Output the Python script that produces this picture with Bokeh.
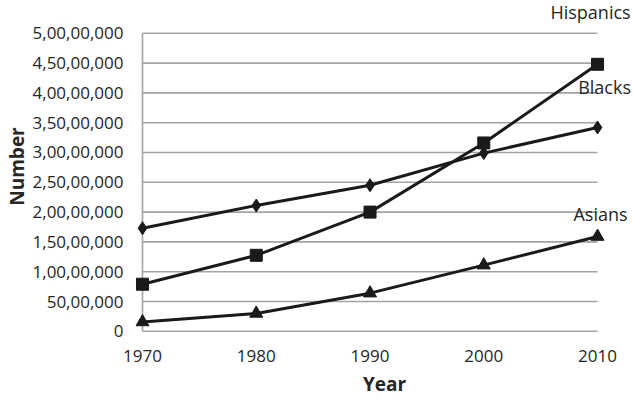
from bokeh.plotting import figure
from bokeh.models import Range1d, FixedTicker, ColumnDataSource
from bokeh.core.properties import value
from bokeh.embed import file_html
from bokeh.resources import INLINE

# ---- data ----
years = [1970, 1980, 1990, 2000, 2010]
blacks = [17.3e6, 21.1e6, 24.5e6, 29.9e6, 34.2e6]
hispanics = [7.9e6, 12.75e6, 20.0e6, 31.6e6, 44.8e6]
asians = [1.56e6, 3.0e6, 6.4e6, 11.1e6, 15.9e6]
series_names = ["Blacks", "Hispanics", "Asians"]
y_tick_values = [0, 5e6, 10e6, 15e6, 20e6, 25e6, 30e6, 35e6, 40e6, 45e6, 50e6]
y_tick_labels = ["0", "50,00,000", "1,00,00,000", "1,50,00,000", "2,00,00,000",
                 "2,50,00,000", "3,00,00,000", "3,50,00,000", "4,00,00,000",
                 "4,50,00,000", "5,00,00,000"]
x_title = "Year"
y_title = "Number"

# ---- styles ----
FONT = "Open Sans"
TXT = "#262626"
LINE = "#1a1a1a"
GRID = "#a3a3a3"
markers = {"Blacks": "diamond", "Hispanics": "square", "Asians": "triangle"}
marker_sizes = {"Blacks": 13, "Hispanics": 12, "Asians": 13}
label_dx = {"Blacks": 7, "Hispanics": -7, "Asians": 3}
label_dy = {"Blacks": -40, "Hispanics": -52, "Asians": -23}

p = figure(width=633, height=400, output_backend="svg", toolbar_location=None,
           x_range=Range1d(1969.385, 2013.16), y_range=Range1d(-0.2e6, 55.5e6),
           min_border_left=135, min_border_right=0, min_border_top=0,
           min_border_bottom=68)
p.outline_line_color = None
p.xgrid.visible = False
p.ygrid.visible = False
p.background_fill_color = "white"
p.border_fill_color = "white"

# gridlines spanning only the year range
grid_src = ColumnDataSource(dict(x0=[years[0]] * len(y_tick_values),
                                 x1=[years[-1]] * len(y_tick_values),
                                 y=y_tick_values))
p.segment(x0="x0", y0="y", x1="x1", y1="y", source=grid_src,
          line_color=GRID, line_width=1.6)
# vertical axis line at first year
p.segment(x0=[years[0]], y0=[y_tick_values[0]], x1=[years[0]], y1=[y_tick_values[-1]],
          line_color=GRID, line_width=1.6)

series = {"Blacks": blacks, "Hispanics": hispanics, "Asians": asians}
for name in series_names:
    vals = series[name]
    p.line(years, vals, line_color=LINE, line_width=3)
    p.scatter(years, vals, marker=markers[name], size=marker_sizes[name],
              fill_color=LINE, line_color=LINE)

lab_src = ColumnDataSource(dict(
    x=[years[-1]] * len(series_names),
    y=[series[n][-1] for n in series_names],
    text=series_names,
    dx=[label_dx[n] for n in series_names],
    dy=[label_dy[n] for n in series_names],
))
p.text(x="x", y="y", text="text", x_offset="dx", y_offset="dy", source=lab_src,
       text_font=value(FONT), text_font_size="18px", text_color=TXT,
       text_align="center", text_baseline="middle")

# axes
p.xaxis.ticker = FixedTicker(ticks=years)
p.yaxis.ticker = FixedTicker(ticks=y_tick_values)
p.yaxis.major_label_overrides = {v: l for v, l in zip(y_tick_values, y_tick_labels)}
for ax in (p.xaxis[0], p.yaxis[0]):
    ax.axis_line_color = None
    ax.major_tick_line_color = None
    ax.minor_tick_line_color = None
    ax.major_tick_out = 0
    ax.major_tick_in = 0
    ax.major_label_text_font = FONT
    ax.major_label_text_font_size = "17px"
    ax.major_label_text_color = TXT
    ax.axis_label_text_font = FONT
    ax.axis_label_text_font_size = "19px"
    ax.axis_label_text_font_style = "bold"
    ax.axis_label_text_color = TXT
p.xaxis.axis_label = x_title
p.yaxis.axis_label = y_title
p.xaxis.major_label_standoff = 17
p.xaxis.axis_label_standoff = 6
p.yaxis.major_label_standoff = 12
p.yaxis.axis_label_standoff = 0

open("out.html", "w").write(file_html(p, INLINE))
